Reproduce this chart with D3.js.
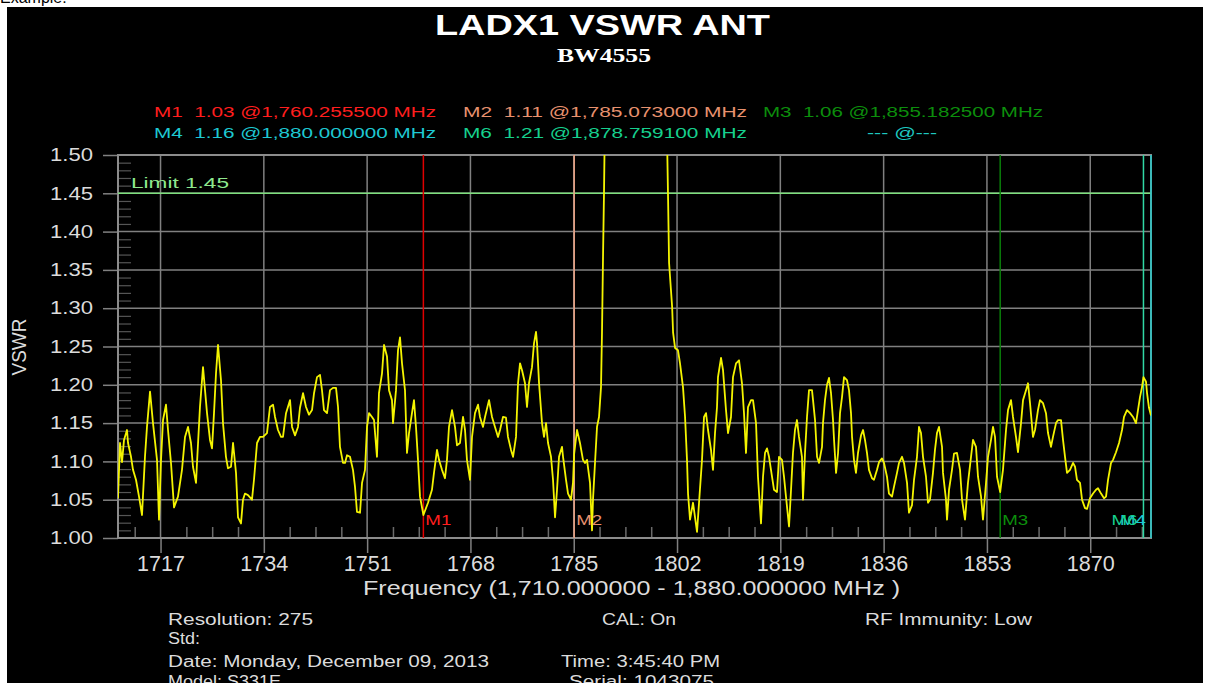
<!DOCTYPE html>
<html>
<head>
<meta charset="utf-8">
<script src="https://cdn.jsdelivr.net/npm/d3@7"></script>
<style>
  html, body { margin: 0; padding: 0; background: #fff; overflow: hidden; }
  svg { display: block; }
</style>
</head>
<body>
<svg id="chart" width="1206" height="683"></svg>
<script>
// ---- data ----
const xTicks = [1717, 1734, 1751, 1768, 1785, 1802, 1819, 1836, 1853, 1870];
const yTicks = [1.00, 1.05, 1.10, 1.15, 1.20, 1.25, 1.30, 1.35, 1.40, 1.45, 1.50];
const limitValue = 1.45;

const markerNames = ["M1", "M2", "M3", "M4", "M6"];
const markerMHz   = [1760.2555, 1785.073, 1855.1825, 1880.0, 1878.7591];
const markerVswr  = [1.03, 1.11, 1.06, 1.16, 1.21];

const infoLeft  = ["Resolution: 275", "Std:", "Date: Monday, December 09, 2013", "Model: S331E"];
const infoMid   = ["CAL: On", "Time: 3:45:40 PM", "Serial: 1043075"];
const infoRight = ["RF Immunity: Low"];

// trace: frequency (MHz) and VSWR
const traceMHz = [
  1710.00,1710.33,1710.66,1710.99,1711.48,1711.65,1712.14,1712.47,1712.96,1713.46,1713.95,1714.44,1714.77,1715.27,1715.76,1716.42,
  1716.75,1717.08,1717.41,1717.90,1718.23,1718.72,1719.22,1719.87,1720.53,1721.03,1721.52,1722.01,1722.34,1722.84,1723.00,1723.49,
  1723.99,1724.32,1724.65,1725.14,1725.47,1725.80,1726.13,1726.46,1726.95,1727.28,1727.77,1728.10,1728.60,1728.93,1729.42,1729.75,
  1730.24,1730.57,1730.90,1731.39,1732.05,1732.38,1732.88,1733.37,1733.86,1734.52,1735.01,1735.51,1735.84,1736.33,1736.83,1737.15,
  1737.65,1738.31,1738.64,1739.13,1739.62,1739.95,1740.45,1740.94,1741.43,1741.93,1742.26,1742.75,1743.24,1743.57,1743.90,1744.40,
  1744.89,1745.38,1745.88,1746.21,1746.53,1747.03,1747.36,1747.69,1748.18,1748.67,1749.00,1749.33,1749.83,1750.16,1750.65,1750.98,
  1751.31,1751.80,1752.13,1752.62,1752.95,1753.45,1753.78,1754.27,1754.60,1755.09,1755.26,1755.75,1756.08,1756.41,1756.74,1757.23,
  1757.56,1757.89,1758.38,1758.71,1759.04,1759.37,1759.70,1760.26,1761.02,1761.67,1762.00,1762.50,1762.83,1763.32,1763.81,1764.14,
  1764.47,1764.97,1765.46,1765.79,1766.28,1766.78,1767.11,1767.43,1767.93,1768.26,1768.75,1769.25,1769.57,1770.07,1770.40,1771.06,
  1771.55,1772.04,1772.54,1772.87,1773.36,1773.85,1774.18,1774.68,1775.01,1775.50,1775.83,1776.16,1776.49,1776.98,1777.31,1777.64,
  1778.13,1778.46,1778.79,1778.96,1779.29,1779.78,1780.11,1780.44,1780.77,1781.26,1781.59,1781.92,1782.25,1782.58,1783.07,1783.24,
  1783.73,1784.06,1784.55,1784.88,1785.07,1785.54,1786.03,1786.52,1786.85,1787.18,1787.68,1788.01,1788.17,1788.50,1788.83,1789.16,
  1789.49,1789.65,1789.82,1789.98,1790.15,1792.60,1795.25,1797.90,1800.20,1800.36,1800.53,1800.69,1801.19,1801.35,1801.68,1802.16,
  1802.49,1802.98,1803.32,1803.64,1803.81,1804.14,1804.63,1804.96,1805.29,1805.62,1806.11,1806.44,1806.77,1807.10,1807.59,1807.92,
  1808.25,1808.58,1808.74,1809.24,1809.57,1810.06,1810.39,1810.88,1811.21,1811.71,1812.20,1812.69,1813.02,1813.35,1813.68,1814.18,
  1814.50,1815.00,1815.32,1815.82,1816.15,1816.48,1816.81,1817.14,1817.63,1817.96,1818.45,1818.78,1819.27,1819.60,1819.93,1820.43,
  1820.76,1821.08,1821.41,1821.74,1822.07,1822.56,1822.73,1823.06,1823.39,1823.72,1824.21,1824.38,1824.71,1825.04,1825.37,1825.86,
  1826.02,1826.35,1826.68,1827.01,1827.34,1827.67,1827.84,1828.17,1828.50,1828.82,1829.15,1829.48,1829.97,1830.30,1830.63,1830.80,
  1831.12,1831.45,1831.78,1832.28,1832.61,1832.93,1833.26,1833.59,1834.09,1834.41,1834.91,1835.24,1835.73,1836.06,1836.55,1836.88,
  1837.38,1837.71,1838.20,1838.53,1839.02,1839.35,1839.85,1840.17,1840.67,1841.00,1841.49,1841.82,1842.15,1842.48,1842.97,1843.30,
  1843.63,1844.12,1844.45,1844.78,1845.11,1845.61,1845.77,1846.26,1846.43,1846.76,1847.25,1847.58,1848.07,1848.57,1848.90,1849.39,
  1849.88,1850.38,1850.71,1851.20,1851.53,1852.03,1852.35,1852.85,1853.18,1853.67,1854.00,1854.33,1854.66,1855.18,1855.32,1855.64,
  1856.14,1856.47,1856.96,1857.29,1857.78,1858.11,1858.61,1858.94,1859.43,1859.76,1860.09,1860.58,1860.91,1861.40,1861.73,1862.23,
  1862.72,1863.05,1863.54,1863.87,1864.37,1864.70,1865.19,1865.52,1865.85,1866.18,1866.67,1867.17,1867.50,1867.82,1868.32,1868.65,
  1869.14,1869.47,1869.96,1870.46,1870.95,1871.28,1871.78,1872.27,1872.60,1872.93,1873.42,1873.75,1874.24,1874.74,1875.23,1875.56,
  1876.05,1876.55,1877.04,1877.53,1877.86,1878.19,1878.52,1878.76,1879.18,1879.35,1879.67,1880.00
];
const traceVswr = [
  1.052,1.124,1.099,1.128,1.141,1.124,1.106,1.089,1.076,1.054,1.030,1.106,1.145,1.191,1.150,1.102,
  1.024,1.102,1.154,1.174,1.141,1.098,1.040,1.054,1.089,1.132,1.145,1.124,1.093,1.072,1.098,1.171,
  1.223,1.193,1.163,1.128,1.117,1.163,1.215,1.252,1.206,1.150,1.106,1.091,1.093,1.124,1.085,1.027,
  1.019,1.050,1.058,1.056,1.050,1.076,1.124,1.132,1.132,1.137,1.171,1.174,1.158,1.141,1.132,1.132,
  1.163,1.180,1.145,1.134,1.145,1.170,1.189,1.171,1.161,1.167,1.189,1.210,1.213,1.193,1.167,1.163,
  1.193,1.196,1.196,1.171,1.119,1.098,1.098,1.108,1.106,1.089,1.067,1.034,1.033,1.072,1.089,1.145,
  1.163,1.158,1.154,1.106,1.189,1.215,1.252,1.237,1.193,1.180,1.150,1.193,1.245,1.262,1.228,1.193,
  1.111,1.137,1.163,1.180,1.145,1.102,1.054,1.030,1.046,1.063,1.085,1.115,1.102,1.089,1.078,1.102,
  1.145,1.167,1.145,1.121,1.124,1.158,1.141,1.102,1.076,1.132,1.163,1.174,1.158,1.145,1.158,1.180,
  1.158,1.145,1.132,1.141,1.158,1.157,1.132,1.115,1.106,1.132,1.202,1.228,1.219,1.202,1.171,1.202,
  1.223,1.254,1.269,1.254,1.202,1.150,1.132,1.150,1.124,1.106,1.076,1.027,1.063,1.106,1.119,1.106,
  1.076,1.058,1.050,1.072,1.110,1.141,1.124,1.102,1.098,1.102,1.072,1.010,1.050,1.098,1.145,1.158,
  1.197,1.268,1.367,1.450,1.560,1.900,2.200,1.900,1.560,1.520,1.441,1.359,1.302,1.268,1.248,1.245,
  1.228,1.197,1.158,1.102,1.058,1.024,1.046,1.027,1.008,1.046,1.102,1.158,1.163,1.141,1.115,1.089,
  1.137,1.171,1.210,1.235,1.219,1.167,1.137,1.158,1.210,1.228,1.232,1.202,1.163,1.111,1.171,1.180,
  1.180,1.150,1.080,1.019,1.080,1.111,1.117,1.106,1.080,1.063,1.060,1.106,1.102,1.080,1.054,1.015,
  1.063,1.111,1.141,1.154,1.132,1.106,1.050,1.111,1.158,1.193,1.193,1.180,1.154,1.106,1.098,1.119,
  1.150,1.180,1.200,1.209,1.189,1.154,1.128,1.085,1.111,1.163,1.184,1.210,1.206,1.193,1.163,1.132,
  1.102,1.085,1.111,1.134,1.141,1.128,1.111,1.089,1.078,1.076,1.089,1.099,1.104,1.098,1.080,1.058,
  1.054,1.067,1.085,1.098,1.106,1.098,1.072,1.033,1.043,1.076,1.106,1.145,1.137,1.106,1.080,1.046,
  1.050,1.085,1.115,1.137,1.145,1.119,1.085,1.050,1.024,1.063,1.089,1.110,1.111,1.089,1.050,1.024,
  1.072,1.106,1.128,1.119,1.080,1.054,1.024,1.072,1.106,1.128,1.145,1.132,1.080,1.060,1.069,1.089,
  1.141,1.167,1.180,1.158,1.132,1.112,1.150,1.180,1.193,1.202,1.176,1.132,1.141,1.167,1.180,1.176,
  1.163,1.137,1.119,1.132,1.150,1.154,1.154,1.128,1.106,1.085,1.089,1.098,1.093,1.076,1.072,1.050,
  1.039,1.038,1.052,1.058,1.063,1.065,1.058,1.052,1.054,1.076,1.098,1.102,1.112,1.124,1.141,1.158,
  1.167,1.163,1.158,1.150,1.167,1.184,1.197,1.210,1.204,1.189,1.170,1.160
];

// ---- layout ----
const plot = { left: 118, right: 1151, top: 155, bottom: 538 };
const gridColor = "#808080";
const textColor = "#dcdcdc";
const font = "'Liberation Sans', Arial, sans-serif";
const NB = "\u00a0";

const markerText  = ["#ff1e1e", "#e8916e", "#0c8e0c", "#1ec8d2", "#16d08e"];
const markerLine  = ["#e00000", "#f0a585", "#0a7f0a", "#22c8c8", "#30d8a4"];

const svg = d3.select("#chart");

const x = d3.scaleLinear().domain([1710, 1880]).range([plot.left, plot.right]);
const y = d3.scaleLinear().domain([1.0, 1.5]).range([plot.bottom, plot.top]);

// draws a text stretched to a given width (the source uses a wide bitmap font)
function label(parent, str, px, py, size, width, color, opts = {}) {
  const t = parent.append("text")
    .attr("x", px).attr("y", py)
    .attr("font-family", opts.family || font)
    .attr("font-size", size)
    .attr("font-weight", opts.weight || "normal")
    .attr("fill", color)
    .attr("text-anchor", opts.anchor || "start")
    .text(str);
  if (width) t.attr("textLength", width).attr("lengthAdjust", "spacingAndGlyphs");
  if (opts.transform) t.attr("transform", opts.transform);
  return t;
}

// page caption above the black panel
label(svg, "Example:", 0, 3, 16, null, "#000");

svg.append("rect").attr("x", 7).attr("y", 7).attr("width", 1196).attr("height", 676).attr("fill", "#000");

// titles
label(svg, "LADX1 VSWR ANT", 435, 35, 29, 335, "#fff", { weight: "bold" });
label(svg, "BW4555", 557, 62, 18, 94, "#fff", { weight: "bold", family: "'Liberation Serif', 'Times New Roman', serif" });

// marker legend
const legendPos = [[154, 117, 282], [463, 117, 284], [763, 117, 280], [154, 138, 282], [463, 138, 284]];
const fmtMHz = d3.format(",.6f");
markerNames.forEach((m, i) => {
  const s = `${m}${NB}${NB}${markerVswr[i].toFixed(2)}${NB}@${fmtMHz(markerMHz[i])}${NB}MHz`;
  label(svg, s, legendPos[i][0], legendPos[i][1], 14, legendPos[i][2], markerText[i]);
});
label(svg, `---${NB}@---`, 867, 138, 14, 70, "#1ec8c0");

// grid
const grid = svg.append("g");
grid.selectAll(".h").data(yTicks.filter(v => v > 1.0 && v < 1.5)).enter().append("line")
  .attr("x1", plot.left).attr("x2", plot.right)
  .attr("y1", d => y(d)).attr("y2", d => y(d))
  .attr("stroke", gridColor).attr("stroke-width", 1.5);
grid.selectAll(".v").data(xTicks).enter().append("line")
  .attr("x1", d => x(d)).attr("x2", d => x(d))
  .attr("y1", plot.top).attr("y2", plot.bottom)
  .attr("stroke", gridColor).attr("stroke-width", 1.5);

// minor ticks (inside)
const xMinor = d3.range(1712.75, 1880, 4.25).filter(v => !xTicks.some(t => Math.abs(t - v) < 0.01));
const yMinor = d3.range(1.01, 1.5, 0.01).filter(v => Math.abs(v * 20 - Math.round(v * 20)) > 0.01);

svg.append("g").attr("transform", `translate(0,${plot.bottom})`)
  .call(d3.axisBottom(x).tickValues(xMinor).tickSize(-11).tickFormat(""))
  .call(g => g.select(".domain").remove())
  .call(g => g.selectAll("line").attr("stroke", "#6a6a6a").attr("stroke-width", 1.5));

svg.append("g").attr("transform", `translate(${plot.left},0)`)
  .call(d3.axisLeft(y).tickValues(yMinor).tickSize(-13).tickFormat(""))
  .call(g => g.select(".domain").remove())
  .call(g => g.selectAll("line").attr("stroke", "#555").attr("stroke-width", 1.2));

// major axes (outside ticks + labels)
svg.append("g").attr("transform", `translate(0,${plot.bottom})`)
  .call(d3.axisBottom(x).tickValues(xTicks).tickSize(15).tickPadding(2).tickFormat(d3.format("d")))
  .call(g => g.select(".domain").remove())
  .call(g => g.selectAll("line").attr("stroke", gridColor).attr("stroke-width", 1.5))
  .call(g => g.selectAll("text").attr("fill", textColor).attr("font-size", 22)
    .attr("font-family", font).attr("textLength", 48).attr("lengthAdjust", "spacingAndGlyphs"));

svg.append("g").attr("transform", `translate(${plot.left},0)`)
  .call(d3.axisLeft(y).tickValues(yTicks).tickSize(15).tickPadding(10).tickFormat(d3.format(".2f")))
  .call(g => g.select(".domain").remove())
  .call(g => g.selectAll("line").attr("stroke", gridColor).attr("stroke-width", 1.5))
  .call(g => g.selectAll("text").attr("fill", textColor).attr("font-size", 18)
    .attr("font-family", font).attr("textLength", 43).attr("lengthAdjust", "spacingAndGlyphs"));

// frame
svg.append("rect")
  .attr("x", plot.left).attr("y", plot.top)
  .attr("width", plot.right - plot.left).attr("height", plot.bottom - plot.top)
  .attr("fill", "none").attr("stroke", "#8c8c8c").attr("stroke-width", 2);

// axis titles
label(svg, "Frequency (1,710.000000 - 1,880.000000 MHz )", 363, 595, 20, 537, textColor);
label(svg, "VSWR", 0, 0, 20, 57, textColor, { anchor: "middle", transform: "translate(26,347) rotate(-90)" });

// limit line
svg.append("line")
  .attr("x1", plot.left).attr("x2", plot.right)
  .attr("y1", y(limitValue)).attr("y2", y(limitValue))
  .attr("stroke", "#7ee07e").attr("stroke-width", 1.5);
label(svg, "Limit " + limitValue.toFixed(2), 131, 188, 15, 98, "#8ee88e");

// marker lines
svg.selectAll(".mk").data(markerNames).enter().append("line")
  .attr("x1", (d, i) => x(markerMHz[i])).attr("x2", (d, i) => x(markerMHz[i]))
  .attr("y1", plot.top).attr("y2", plot.bottom)
  .attr("stroke", (d, i) => markerLine[i]).attr("stroke-width", 1.5);

// trace
svg.append("clipPath").attr("id", "plotClip").append("rect")
  .attr("x", plot.left).attr("y", plot.top)
  .attr("width", plot.right - plot.left).attr("height", plot.bottom - plot.top);

const line = d3.line().x((d, i) => x(traceMHz[i])).y(d => y(d));
svg.append("path")
  .datum(traceVswr)
  .attr("clip-path", "url(#plotClip)")
  .attr("d", line)
  .attr("fill", "none")
  .attr("stroke", "#f4f400")
  .attr("stroke-width", 1.8)
  .attr("stroke-linejoin", "round");

// marker labels at the bottom of the plot (M4 and M6 overlap at the right edge, as in the source)
markerNames.forEach((m, i) => {
  const px = x(markerMHz[i]);
  const nearEdge = px > plot.right - 30;
  label(svg, m, nearEdge ? px - (m === "M4" ? 5 : 6) : px + 2, 525, 15, 26, markerText[i],
    { anchor: nearEdge ? "end" : "start" });
});

// info block (bottom rows are cut by the panel edge in the source)
const rowsLeft = [625, 644, 667, 687];
infoLeft.forEach((s, i) => label(svg, s, 168, rowsLeft[i], 16, [145, 32, 321, 113][i], textColor));
const midPos = [[602, 625, 74], [561, 667, 159], [569, 687, 145]];
infoMid.forEach((s, i) => label(svg, s, midPos[i][0], midPos[i][1], 16, midPos[i][2], textColor));
label(svg, infoRight[0], 865, 625, 16, 167, textColor);
</script>
</body>
</html>
